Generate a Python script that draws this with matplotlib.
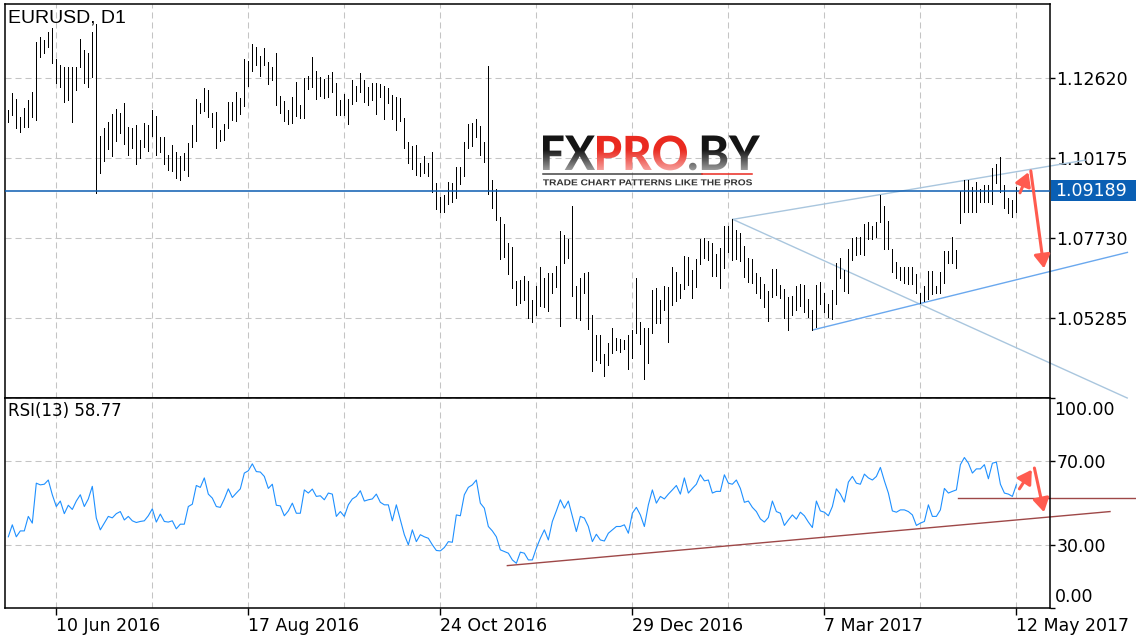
import matplotlib
matplotlib.use("Agg")
import numpy as np
import matplotlib.pyplot as plt
import matplotlib.transforms as mtransforms
from matplotlib.lines import Line2D
from matplotlib.patches import Rectangle, PathPatch
from matplotlib.textpath import TextPath
from matplotlib.font_manager import FontProperties

# daily EURUSD bars (index 0 = first bar, 252 = 12 May 2017)
highs = [
    1.1165, 1.1216, 1.1199, 1.1145, 1.1170, 1.1196, 1.1221, 1.1374, 1.1389, 1.1379,
    1.1405, 1.1415, 1.1320, 1.1303, 1.1298, 1.1298, 1.1298, 1.1298, 1.1381, 1.1349,
    1.1338, 1.1405, 1.1428, 1.1086, 1.1111, 1.1128, 1.1153, 1.1168, 1.1155, 1.1186,
    1.1114, 1.1109, 1.1119, 1.1074, 1.1125, 1.1119, 1.1165, 1.1147, 1.1084, 1.1082,
    1.1028, 1.1058, 1.1038, 1.1025, 1.1033, 1.1063, 1.1119, 1.1198, 1.1186, 1.1231,
    1.1226, 1.1155, 1.1158, 1.1104, 1.1122, 1.1189, 1.1191, 1.1219, 1.1201, 1.1320,
    1.1315, 1.1367, 1.1359, 1.1330, 1.1354, 1.1313, 1.1298, 1.1338, 1.1208, 1.1193,
    1.1165, 1.1206, 1.1250, 1.1181, 1.1262, 1.1269, 1.1326, 1.1284, 1.1265, 1.1259,
    1.1272, 1.1280, 1.1247, 1.1196, 1.1213, 1.1198, 1.1257, 1.1239, 1.1277, 1.1257,
    1.1235, 1.1247, 1.1249, 1.1244, 1.1239, 1.1231, 1.1211, 1.1204, 1.1203, 1.1140,
    1.1068, 1.1055, 1.1058, 1.1004, 1.1025, 1.1002, 1.1037, 1.0943, 1.0900, 1.0906,
    1.0944, 1.0941, 1.0992, 1.0992, 1.1066, 1.1122, 1.1124, 1.1138, 1.1117, 1.1068,
    1.1300, 1.0951, 1.0924, 1.0837, 1.0817, 1.0758, 1.0745, 1.0643, 1.0646, 1.0658,
    1.0643, 1.0585, 1.0627, 1.0686, 1.0653, 1.0668, 1.0668, 1.0689, 1.0795, 1.0783,
    1.0770, 1.0872, 1.0627, 1.0653, 1.0666, 1.0669, 1.0539, 1.0478, 1.0478, 1.0419,
    1.0452, 1.0498, 1.0467, 1.0464, 1.0463, 1.0478, 1.0493, 1.0653, 1.0518, 1.0498,
    1.0500, 1.0615, 1.0620, 1.0583, 1.0628, 1.0623, 1.0684, 1.0669, 1.0632, 1.0719,
    1.0715, 1.0676, 1.0710, 1.0771, 1.0773, 1.0766, 1.0758, 1.0725, 1.0742, 1.0811,
    1.0811, 1.0831, 1.0799, 1.0788, 1.0750, 1.0712, 1.0710, 1.0668, 1.0656, 1.0632,
    1.0612, 1.0679, 1.0678, 1.0630, 1.0617, 1.0595, 1.0597, 1.0628, 1.0632, 1.0630,
    1.0588, 1.0554, 1.0630, 1.0639, 1.0605, 1.0571, 1.0615, 1.0699, 1.0714, 1.0675,
    1.0740, 1.0775, 1.0778, 1.0778, 1.0816, 1.0822, 1.0812, 1.0824, 1.0906, 1.0872,
    1.0827, 1.0739, 1.0702, 1.0686, 1.0686, 1.0686, 1.0686, 1.0664, 1.0607, 1.0627,
    1.0673, 1.0673, 1.0627, 1.0671, 1.0735, 1.0735, 1.0778, 1.0737, 1.0918, 1.0951,
    1.0951, 1.0931, 1.0946, 1.0923, 1.0936, 1.0936, 1.0987, 1.1000, 1.1023, 1.0936,
    1.0895, 1.0890, 1.0931,
]
lows = [
    1.1130, 1.1150, 1.1111, 1.1099, 1.1114, 1.1114, 1.1145, 1.1135, 1.1326, 1.1338,
    1.1359, 1.1308, 1.1247, 1.1235, 1.1191, 1.1196, 1.1130, 1.1226, 1.1298, 1.1247,
    1.1237, 1.1267, 1.0913, 1.0972, 1.1010, 1.1045, 1.1025, 1.1071, 1.1094, 1.1061,
    1.1028, 1.1048, 1.1000, 1.1018, 1.1053, 1.1041, 1.1086, 1.1028, 1.1038, 1.1000,
    1.0982, 1.0980, 1.0956, 1.0951, 1.0982, 1.0962, 1.1053, 1.1071, 1.1155, 1.1162,
    1.1145, 1.1114, 1.1048, 1.1072, 1.1074, 1.1111, 1.1135, 1.1133, 1.1153, 1.1177,
    1.1240, 1.1284, 1.1303, 1.1269, 1.1303, 1.1245, 1.1257, 1.1181, 1.1157, 1.1133,
    1.1122, 1.1127, 1.1147, 1.1140, 1.1142, 1.1228, 1.1235, 1.1199, 1.1208, 1.1203,
    1.1206, 1.1221, 1.1150, 1.1150, 1.1150, 1.1122, 1.1184, 1.1194, 1.1221, 1.1189,
    1.1181, 1.1196, 1.1153, 1.1206, 1.1138, 1.1186, 1.1138, 1.1104, 1.1133, 1.1050,
    1.1002, 1.0984, 1.0967, 1.0965, 1.0974, 1.0962, 1.0916, 1.0862, 1.0855, 1.0852,
    1.0878, 1.0885, 1.0895, 1.0938, 1.0962, 1.1050, 1.1055, 1.1082, 1.1028, 1.1007,
    1.0908, 1.0865, 1.0829, 1.0709, 1.0715, 1.0664, 1.0620, 1.0569, 1.0574, 1.0585,
    1.0529, 1.0518, 1.0539, 1.0566, 1.0564, 1.0552, 1.0605, 1.0625, 1.0506, 1.0699,
    1.0712, 1.0597, 1.0529, 1.0523, 1.0605, 1.0496, 1.0366, 1.0401, 1.0391, 1.0353,
    1.0386, 1.0424, 1.0432, 1.0427, 1.0434, 1.0373, 1.0408, 1.0483, 1.0449, 1.0342,
    1.0391, 1.0483, 1.0513, 1.0513, 1.0554, 1.0455, 1.0569, 1.0580, 1.0592, 1.0618,
    1.0630, 1.0590, 1.0625, 1.0694, 1.0714, 1.0707, 1.0659, 1.0658, 1.0620, 1.0683,
    1.0732, 1.0707, 1.0710, 1.0705, 1.0656, 1.0641, 1.0636, 1.0607, 1.0590, 1.0562,
    1.0521, 1.0595, 1.0600, 1.0592, 1.0529, 1.0493, 1.0539, 1.0554, 1.0567, 1.0549,
    1.0532, 1.0493, 1.0503, 1.0572, 1.0549, 1.0532, 1.0526, 1.0572, 1.0653, 1.0612,
    1.0605, 1.0707, 1.0722, 1.0725, 1.0722, 1.0770, 1.0770, 1.0778, 1.0824, 1.0739,
    1.0739, 1.0671, 1.0651, 1.0646, 1.0636, 1.0632, 1.0632, 1.0605, 1.0574, 1.0580,
    1.0587, 1.0602, 1.0605, 1.0607, 1.0638, 1.0697, 1.0697, 1.0683, 1.0821, 1.0853,
    1.0855, 1.0855, 1.0855, 1.0885, 1.0885, 1.0885, 1.0878, 1.0943, 1.0916, 1.0865,
    1.0849, 1.0839, 1.0855,
]
rsi = [
    34.0, 39.7, 34.0, 36.8, 36.8, 43.7, 40.5, 59.5, 58.7, 59.0,
    61.0, 54.0, 48.4, 51.0, 45.0, 49.0, 47.0, 51.0, 54.0, 48.4,
    52.0, 58.0, 42.9, 37.3, 40.5, 43.7, 43.0, 45.0, 46.0, 42.0,
    43.7, 41.6, 40.8, 41.3, 41.6, 44.0, 47.3, 41.0, 44.8, 41.3,
    41.0, 41.6, 37.8, 40.0, 40.0, 48.4, 49.5, 58.4, 57.5, 62.0,
    54.3, 52.4, 48.4, 48.0, 52.0, 56.8, 52.7, 54.8, 56.8, 64.3,
    65.4, 68.7, 65.0, 64.8, 62.7, 57.0, 59.0, 49.0, 48.7, 44.0,
    46.3, 50.0, 45.2, 45.2, 56.3, 54.8, 56.7, 53.2, 53.5, 51.6,
    54.8, 54.3, 43.7, 46.0, 43.7, 49.2, 52.0, 53.2, 55.9, 51.0,
    51.6, 52.0, 54.3, 50.4, 49.2, 49.2, 41.6, 49.2, 42.0, 35.0,
    30.2, 37.3, 31.7, 35.0, 34.0, 33.3, 30.2, 27.5, 27.3, 28.9,
    31.7, 31.4, 44.4, 44.0, 54.0, 57.5, 58.7, 61.0, 50.0, 47.6,
    38.9, 36.8, 34.0, 27.8, 27.0, 26.2, 23.0, 21.4, 26.7, 26.2,
    23.0, 23.0, 28.6, 33.3, 37.3, 32.5, 41.3, 46.3, 51.6, 47.6,
    51.0, 43.7, 36.5, 43.7, 42.9, 38.9, 31.7, 35.2, 32.5, 32.0,
    35.7, 37.3, 38.9, 38.9, 39.7, 35.7, 45.2, 48.0, 44.4, 38.9,
    49.2, 56.3, 50.0, 53.2, 52.0, 54.3, 56.3, 58.4, 54.3, 62.0,
    54.8, 57.0, 59.0, 63.5, 60.6, 61.0, 54.8, 55.6, 55.6, 63.5,
    59.5, 59.0, 61.0, 57.0, 50.4, 51.0, 48.0, 46.0, 42.5, 41.0,
    43.2, 51.0, 46.0, 45.2, 39.4, 42.0, 44.4, 42.4, 45.7, 44.0,
    41.0, 38.4, 51.0, 46.3, 45.7, 44.0, 48.4, 56.8, 54.3, 50.5,
    60.0, 62.7, 59.5, 59.0, 63.8, 62.0, 61.0, 62.7, 67.0, 60.6,
    54.8, 46.3, 45.7, 46.8, 46.8, 46.0, 44.4, 39.4, 40.5, 41.3,
    49.2, 43.7, 43.7, 46.8, 57.0, 54.8, 55.6, 56.3, 68.3, 71.7,
    69.0, 64.3, 66.3, 66.3, 68.3, 61.6, 69.0, 69.5, 59.0, 54.8,
    54.3, 53.2, 58.77,
]

date_idx = [12, 60, 108, 156, 204, 252]
date_labels = ["10 Jun 2016", "17 Aug 2016", "24 Oct 2016",
               "29 Dec 2016", "7 Mar 2017", "12 May 2017"]
price_ticks = [1.05285, 1.07730, 1.10175, 1.12620]
last_price = 1.09189

# hand-drawn lines: (bar index, value)
wedge_top = [(181.1, 1.0831), (269.2, 1.1012)]
wedge_down = [(181.1, 1.0831), (279.7, 1.0285)]
channel_low = [(201.1, 1.0493), (279.75, 1.0730)]
arrow_up = [(252.9, 1.0912), (255.0, 1.0975)]
arrow_down = [(255.6, 1.0979), (258.9, 1.0681)]
rsi_trend = [(124.75, 20.3), (275.4, 46.0)]
rsi_level = [(237.5, 52.4), (281.9, 52.4)]
rsi_arrow_up = [(252.75, 56.8), (255.85, 65.9)]
rsi_arrow_down = [(256.5, 66.7), (258.9, 45.7)]

W, H = 1136, 640
fig = plt.figure(figsize=(W / 100, H / 100), dpi=100)
ax = fig.add_axes([4.5 / W, 1 - 398 / H, 1045.5 / W, 394 / H])
ax2 = fig.add_axes([4.5 / W, 1 - 608.3 / H, 1045.5 / W, 210.3 / H])

grid_kw = dict(color="#c4c4c4", linestyle=(0, (5.8, 3.8)), linewidth=0.75)
red = "#ff5b4f"

xs = list(range(len(highs)))
ax.vlines(xs, lows, highs, color="black", linewidth=0.55, antialiased=False, zorder=3)
ax.axhline(last_price, color="#0b5db2", linewidth=1.1, zorder=4)

for a in (ax, ax2):
    a.set_xlim(-0.95, 260.4)
    for s in a.spines.values():
        s.set_linewidth(1.1)
        s.set_color("black")
    a.yaxis.tick_right()
    a.tick_params(axis="y", direction="out", length=3.6, width=1.0, pad=1,
                  labelsize=12.5, colors="black")
    a.set_xticks(range(12, 253, 24), minor=True)
    a.grid(True, which="both", **grid_kw)
    a.set_axisbelow(True)

ax.set_ylim(1.02850, 1.14892)
ax.set_yticks(price_ticks, [f"{v:.5f}" for v in price_ticks])
ax.set_xticks(date_idx, [""] * len(date_idx))
ax.tick_params(axis="x", length=0, which="both")

ax2.set_ylim(0, 100)
ax2.set_yticks([0, 30, 70, 100], ["", "30.00", "70.00", ""])
ax2.set_xticks(date_idx, date_labels)
ax2.tick_params(axis="x", which="major", length=5, width=1.0, pad=1, labelsize=12.5)
ax2.tick_params(axis="x", which="minor", length=0)
for t in ax2.get_xticklabels():
    t.set_ha("left")

# edge labels of the RSI scale sit inside the panel
ylab = mtransforms.blended_transform_factory(ax2.transAxes, ax2.transData) + \
    mtransforms.ScaledTranslation(4.5 / 100, 0, fig.dpi_scale_trans)
ax2.text(1.0, 94.4, "100.00", transform=ylab, va="center", ha="left", fontsize=12.5)
ax2.text(1.0, 5.4, "0.00", transform=ylab, va="center", ha="left", fontsize=12.5)

# trend lines
for pts, col in ((wedge_top, "#a9c6de"), (wedge_down, "#a9c6de"), (channel_low, "#6aa8ee")):
    ax.plot([p[0] for p in pts], [p[1] for p in pts], color=col, linewidth=1.0,
            clip_on=False, zorder=2)
for pts in (rsi_trend, rsi_level):
    ax2.plot([p[0] for p in pts], [p[1] for p in pts], color="#9e4848", linewidth=1.0,
             clip_on=False, zorder=2)

ax2.plot(xs, rsi, color="#1e90ff", linewidth=0.8, zorder=3)

arrow_kw = dict(arrowstyle="-|>,head_length=0.45,head_width=0.27", color=red, lw=2.2,
                mutation_scale=18, shrinkA=0, shrinkB=0)
for a, pts in ((ax, arrow_up), (ax, arrow_down), (ax2, rsi_arrow_up), (ax2, rsi_arrow_down)):
    a.annotate("", xy=pts[1], xytext=pts[0], arrowprops=arrow_kw, annotation_clip=False, zorder=5)

# current price label
pl = mtransforms.blended_transform_factory(fig.transFigure, ax.transData)
ax.add_patch(Rectangle((1051 / W, last_price - 0.00321), 85 / W, 0.00642, transform=pl,
                       facecolor="#0a5fb4", edgecolor="none", clip_on=False, zorder=6))
ax.text(1055 / W, last_price, f"{last_price:.5f}", transform=pl, color="white",
        va="center", ha="left", fontsize=12.5, zorder=7)

fig.text(8 / W, 1 - 18 / H, "EURUSD, D1", family="Liberation Sans", fontsize=14,
         va="center", ha="left")
fig.text(8 / W, 1 - 411 / H, f"RSI(13) {rsi[-1]:.2f}", fontsize=12, va="center", ha="left")

# watermark logo, drawn in a pixel-coordinate overlay
lax = fig.add_axes([0, 0, 1, 1])
lax.set_xlim(0, W)
lax.set_ylim(H, 0)
lax.axis("off")
lax.patch.set_alpha(0)


def fitted_word(text, x0, x1, top, base, prop):
    tp = TextPath((0, 0), text, size=50, prop=prop)
    bb = tp.get_extents()
    sx = (x1 - x0) / bb.width
    sy = (base - top) / bb.y1
    tr = mtransforms.Affine2D().translate(-bb.x0, 0).scale(sx, -sy).translate(x0, base)
    return PathPatch(tp, transform=tr + lax.transData, edgecolor="none")


def gradient(dark, light):
    t = np.linspace(0, 1, 64)[:, None]
    k = np.clip((t - 0.42) / 0.58, 0, 1)
    c0 = np.array(matplotlib.colors.to_rgb(dark))
    c1 = np.array(matplotlib.colors.to_rgb(light))
    return (c0 * (1 - k[..., None]) + c1 * k[..., None]) * np.ones((64, 2, 3))


logo_font = FontProperties(family=["Lato", "Liberation Sans"], weight="black")
for word, x0, x1, dark, light in (("FX", 543, 595, "#151515", "#a0a0a0"),
                                  ("PRO", 597, 687, "#ea2a20", "#f7a3a0"),
                                  (".BY", 689, 760, "#151515", "#a0a0a0")):
    patch = fitted_word(word, x0, x1, 135.5, 170, logo_font)
    patch.set_facecolor("none")
    lax.add_patch(patch)
    im = lax.imshow(gradient(dark, light), extent=(x0 - 2, x1 + 2, 171, 134),
                    aspect="auto", interpolation="bilinear")
    im.set_clip_path(patch)

lax.add_line(Line2D([543, 702], [173.5, 173.5], color="#444444", linewidth=1.1))
lax.add_line(Line2D([702, 752], [173.5, 173.5], color="#ea2a20", linewidth=1.1))
tag = fitted_word("TRADE CHART PATTERNS LIKE THE PROS", 543, 752, 179.3, 185.3,
                  FontProperties(family="Liberation Sans", weight="bold"))
tag.set_facecolor("#333333")
lax.add_patch(tag)
lax.set_xlim(0, W)
lax.set_ylim(H, 0)

fig.savefig("out.png", dpi=100)
